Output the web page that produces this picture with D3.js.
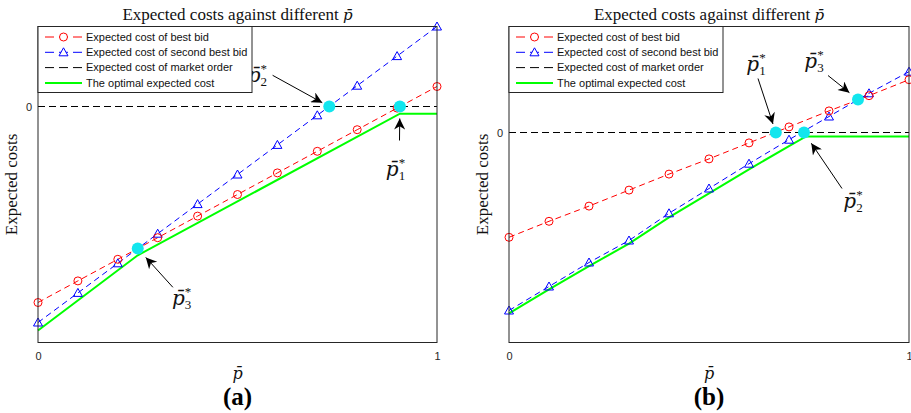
<!DOCTYPE html>
<html>
<head>
<meta charset="utf-8">
<script src="https://cdn.jsdelivr.net/npm/d3@7"></script>
<style>
body { margin: 0; background: #fff; }
</style>
</head>
<body>
<div id="chart"></div>
<script>
// ---- data (cost units are arbitrary) ----
const pBar = [0, 0.1, 0.2, 0.3, 0.4, 0.5, 0.6, 0.7, 0.8, 0.9, 1];

// panel (a)
const bestBidA   = [-2.45, -2.18, -1.91, -1.64, -1.37, -1.10, -0.83, -0.56, -0.29, -0.02, 0.25];
const secondBidA = [-2.70, -2.33, -1.96, -1.59, -1.22, -0.85, -0.48, -0.11, 0.26, 0.63, 1.00];
const optimalPA    = [0, 0.25, 0.907, 1];
const optimalCostA = [-2.80, -1.86, -0.09, -0.09];
const starPA    = [0.907, 0.73, 0.25];
const starCostA = [0, 0, -1.775];
const starLabelPosA  = [[0.906, -0.82], [0.56, 0.36], [0.37, -2.43]];
const starArrowTailA = [[0.906, -0.425], [0.588, 0.39], [0.338, -2.26]];

// panel (b)
const bestBidB   = [-1.31, -1.11, -0.92, -0.72, -0.52, -0.33, -0.13, 0.07, 0.27, 0.46, 0.66];
const secondBidB = [-2.225, -1.925, -1.625, -1.35, -1.01, -0.70, -0.39, -0.09, 0.20, 0.49, 0.76];
const optimalPB    = [0, 0.1, 0.2, 0.3, 0.4, 0.5, 0.6, 0.7, 0.7425, 1];
const optimalCostB = [-2.26, -1.96, -1.67, -1.39, -1.06, -0.76, -0.46, -0.17, -0.05, -0.05];
const starPB    = [0.667, 0.7375, 0.8725];
const starCostB = [0, 0, 0.4125];
const starLabelPosB  = [[0.6275, 0.82], [0.87, -0.89], [0.7725, 0.86]];
const starArrowTailB = [[0.6225, 0.675], [0.8325, -0.70], [0.7975, 0.7125]];

const marketCost = [0, 0];
const xTicks = [0, 1];
const yTicks = [0];
const starNames = ["1", "2", "3"];
const legendLabels = [
  "Expected cost of best bid",
  "Expected cost of second best bid",
  "Expected cost of market order",
  "The optimal expected cost"
];

// ---- layout ----
const serif = "'Liberation Serif', 'DejaVu Serif', serif";
const mathFont = "'DejaVu Serif', serif";
const sans = "'Liberation Sans', Arial, sans-serif";

const svg = d3.select("#chart")
  .append("svg")
  .attr("width", 911)
  .attr("height", 413);

svg.append("defs").append("marker")
  .attr("id", "head")
  .attr("viewBox", "0 0 10 10")
  .attr("refX", 10)
  .attr("refY", 5)
  .attr("markerWidth", 13)
  .attr("markerHeight", 11)
  .attr("markerUnits", "userSpaceOnUse")
  .attr("orient", "auto")
  .append("path")
  .attr("d", "M0,0 L10,5 L0,10 L3,5 Z")
  .attr("fill", "#000");

const panels = [
  { tag: "(a)", left: 38, width: 399, yDomain: [-2.95, 1.0],
    best: bestBidA, second: secondBidA, optP: optimalPA, optC: optimalCostA,
    starP: starPA, starC: starCostA, labelPos: starLabelPosA, tails: starArrowTailA,
    gaps: [12, 8, 12] },
  { tag: "(b)", left: 509, width: 400, yDomain: [-2.625, 1.325],
    best: bestBidB, second: secondBidB, optP: optimalPB, optC: optimalCostB,
    starP: starPB, starC: starCostB, labelPos: starLabelPosB, tails: starArrowTailB,
    gaps: [9, 13, 11] }
];
const plotTop = 26.5, plotH = 316;

function pBarText(sel, size) {
  sel.append("tspan")
    .attr("font-family", mathFont)
    .attr("font-style", "italic")
    .attr("font-size", size)
    .text("p\u0304");
}

function drawPanel(cfg) {
  const g = svg.append("g");
  const x = d3.scaleLinear().domain([0, 1]).range([cfg.left, cfg.left + cfg.width]);
  const y = d3.scaleLinear().domain(cfg.yDomain).range([plotTop + plotH, plotTop]);
  const cx = cfg.left + cfg.width / 2;

  // axes
  g.append("g")
    .attr("transform", `translate(0, ${plotTop + plotH})`)
    .call(d3.axisBottom(x).tickValues(xTicks).tickSize(0).tickPadding(10).tickFormat(d3.format("d")))
    .call(a => a.select(".domain").remove())
    .call(a => a.selectAll("text").attr("font-family", sans).attr("font-size", 11).attr("fill", "#262626"));
  g.append("g")
    .attr("transform", `translate(${cfg.left}, 0)`)
    .call(d3.axisLeft(y).tickValues(yTicks).tickSize(0).tickPadding(6).tickFormat(d3.format("d")))
    .call(a => a.select(".domain").remove())
    .call(a => a.selectAll("text").attr("font-family", sans).attr("font-size", 11).attr("fill", "#262626"));

  // market order (zero line)
  const line = d3.line().x(d => x(d[0])).y(d => y(d[1]));
  g.append("path")
    .datum(xTicks.map((p, i) => [p, marketCost[i]]))
    .attr("d", line)
    .attr("fill", "none")
    .attr("stroke", "#000")
    .attr("stroke-width", 1)
    .attr("stroke-dasharray", "7,4");

  // optimal cost
  g.append("path")
    .datum(cfg.optP.map((p, i) => [p, cfg.optC[i]]))
    .attr("d", line)
    .attr("fill", "none")
    .attr("stroke", "#00ff00")
    .attr("stroke-width", 2);

  // bids
  g.append("path")
    .datum(pBar.map((p, i) => [p, cfg.second[i]]))
    .attr("d", line)
    .attr("fill", "none")
    .attr("stroke", "#0000ff")
    .attr("stroke-width", 1)
    .attr("stroke-dasharray", "6,4");
  g.append("path")
    .datum(pBar.map((p, i) => [p, cfg.best[i]]))
    .attr("d", line)
    .attr("fill", "none")
    .attr("stroke", "#ff0000")
    .attr("stroke-width", 1)
    .attr("stroke-dasharray", "6,4");

  g.selectAll(".tri")
    .data(pBar)
    .enter()
    .append("path")
    .attr("class", "tri")
    .attr("transform", (d, i) => `translate(${x(d)}, ${y(cfg.second[i])})`)
    .attr("d", "M0,-4.5 L4.5,3.5 L-4.5,3.5 Z")
    .attr("fill", "none")
    .attr("stroke", "#0000ff")
    .attr("stroke-width", 1);
  g.selectAll(".circ")
    .data(pBar)
    .enter()
    .append("circle")
    .attr("class", "circ")
    .attr("cx", d => x(d))
    .attr("cy", (d, i) => y(cfg.best[i]))
    .attr("r", 4)
    .attr("fill", "none")
    .attr("stroke", "#ff0000")
    .attr("stroke-width", 1);

  // box
  g.append("rect")
    .attr("x", cfg.left)
    .attr("y", plotTop)
    .attr("width", cfg.width)
    .attr("height", plotH)
    .attr("fill", "none")
    .attr("stroke", "#262626")
    .attr("stroke-width", 1);

  // threshold points
  g.selectAll(".star")
    .data(cfg.starP)
    .enter()
    .append("circle")
    .attr("class", "star")
    .attr("cx", d => x(d))
    .attr("cy", (d, i) => y(cfg.starC[i]))
    .attr("r", 6)
    .attr("fill", "#12e6ee");

  // arrows + labels
  cfg.starP.forEach((p, i) => {
    const tx = x(cfg.tails[i][0]), ty = y(cfg.tails[i][1]);
    const sx = x(p), sy = y(cfg.starC[i]);
    const len = Math.hypot(sx - tx, sy - ty);
    const k = (len - cfg.gaps[i]) / len;
    g.append("line")
      .attr("x1", tx).attr("y1", ty)
      .attr("x2", tx + (sx - tx) * k).attr("y2", ty + (sy - ty) * k)
      .attr("stroke", "#000")
      .attr("stroke-width", 1)
      .attr("marker-end", "url(#head)");

    const lx = x(cfg.labelPos[i][0]), ly = y(cfg.labelPos[i][1]);
    const t = g.append("text")
      .attr("x", lx - 4)
      .attr("y", ly + 4)
      .attr("fill", "#111")
      .attr("text-anchor", "middle");
    pBarText(t, 20);
    t.append("tspan").attr("font-family", serif).attr("font-size", 13).attr("dy", -9).text("*");
    t.append("tspan").attr("font-family", serif).attr("font-size", 13).attr("dx", -6.5).attr("dy", 13).text(starNames[i]);
  });

  // legend
  const lg = g.append("g").attr("transform", `translate(${cfg.left}, ${plotTop})`);
  lg.append("rect")
    .attr("width", 214)
    .attr("height", 66)
    .attr("fill", "#fff")
    .attr("stroke", "#262626")
    .attr("stroke-width", 1);
  const legColors = ["#ff0000", "#0000ff", "#000", "#00ff00"];
  legendLabels.forEach((lab, i) => {
    const ry = 10.5 + i * 15.3;
    lg.append("line")
      .attr("x1", 7).attr("x2", 44).attr("y1", ry).attr("y2", ry)
      .attr("stroke", legColors[i])
      .attr("stroke-width", i === 3 ? 2 : 1)
      .attr("stroke-dasharray", i === 3 ? null : "9,5");
    if (i === 0) {
      lg.append("circle").attr("cx", 25.5).attr("cy", ry).attr("r", 4)
        .attr("fill", "#fff").attr("stroke", "#ff0000");
    }
    if (i === 1) {
      lg.append("path").attr("transform", `translate(25.5, ${ry})`)
        .attr("d", "M0,-4.5 L4.5,3.5 L-4.5,3.5 Z")
        .attr("fill", "#fff").attr("stroke", "#0000ff");
    }
    lg.append("text")
      .attr("x", 48)
      .attr("y", ry)
      .attr("dy", "0.35em")
      .attr("font-family", sans)
      .attr("font-size", 11)
      .attr("fill", "#111")
      .text(lab);
  });

  // title
  const title = g.append("text")
    .attr("x", cx)
    .attr("y", 20)
    .attr("text-anchor", "middle")
    .attr("font-family", serif)
    .attr("font-size", 17)
    .attr("fill", "#111");
  title.append("tspan").text("Expected costs against different ");
  pBarText(title, 15);

  // axis labels
  g.append("text")
    .attr("transform", `translate(${cfg.left - 21}, ${plotTop + plotH / 2}) rotate(-90)`)
    .attr("text-anchor", "middle")
    .attr("font-family", serif)
    .attr("font-size", 17)
    .attr("fill", "#111")
    .text("Expected costs");
  const xl = g.append("text")
    .attr("x", cx)
    .attr("y", 379)
    .attr("text-anchor", "middle")
    .attr("fill", "#111");
  pBarText(xl, 16);

  g.append("text")
    .attr("x", cx)
    .attr("y", 405)
    .attr("text-anchor", "middle")
    .attr("font-family", serif)
    .attr("font-weight", "bold")
    .attr("font-size", 25)
    .attr("fill", "#000")
    .text(cfg.tag);
}

panels.forEach(drawPanel);
</script>
</body>
</html>
